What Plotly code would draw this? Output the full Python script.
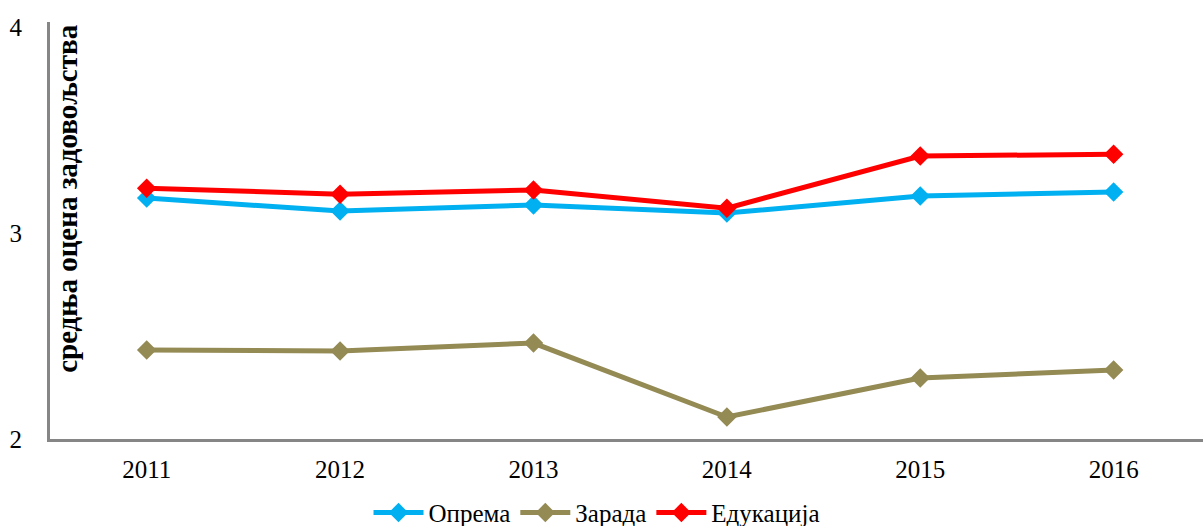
import plotly.graph_objects as go

# данни
years = ['2011', '2012', '2013', '2014', '2015', '2016']
oprema = [3.17, 3.107, 3.136, 3.097, 3.18, 3.199]
zarada = [2.432, 2.427, 2.466, 2.107, 2.296, 2.335]
edukacija = [3.218, 3.189, 3.209, 3.121, 3.374, 3.383]

y_ticks = [2, 3, 4]
y_title = 'средња оцена задовољства'

series = [
    ('Опрема', oprema, '#00B0F0'),
    ('Зарада', zarada, '#948A54'),
    ('Едукација', edukacija, '#FF0000'),
]

FONT = 'Liberation Serif, Times New Roman, serif'

fig = go.Figure()

for name, vals, color in series:
    fig.add_trace(go.Scatter(
        x=years,
        y=vals,
        name=name,
        mode='lines+markers',
        line=dict(color=color, width=5),
        marker=dict(symbol='diamond', size=15, color=color)
    ))

# подпис на оста y вътре в графиката
fig.add_annotation(
    text='<b>' + y_title + '</b>',
    textangle=-90,
    xref='paper', yref='paper',
    x=0.0148, y=0.576,
    xanchor='center', yanchor='middle',
    showarrow=False,
    font=dict(family=FONT, size=29, color='black')
)

fig.update_layout(
    width=1203,
    height=526,
    paper_bgcolor='white',
    plot_bgcolor='white',
    font=dict(family=FONT, size=25, color='black'),
    margin=dict(l=50, r=0, t=22, b=87),
    xaxis=dict(
        type='category',
        range=[-0.5, 5.462],
        automargin=False,
        showline=True,
        linecolor='#868686',
        linewidth=3,
        showgrid=False,
        ticks='',
        ticklabelstandoff=6,
        tickfont=dict(size=25)
    ),
    yaxis=dict(
        range=[2, 4.025],
        tickvals=y_ticks,
        automargin=False,
        showline=True,
        linecolor='#868686',
        linewidth=3,
        showgrid=False,
        zeroline=False,
        ticks='',
        ticklabelstandoff=20,
        tickfont=dict(size=25)
    ),
    legend=dict(
        orientation='h',
        xanchor='center',
        x=0.474,
        yref='container',
        yanchor='middle',
        y=0.025,
        font=dict(size=25),
        itemwidth=50,
        bgcolor='rgba(0,0,0,0)'
    )
)

# страницата без поле около графиката
fig.write_html(
    'out.html',
    config={'displayModeBar': False},
    post_script="document.body.style.margin='0';document.body.style.overflow='hidden';"
)
